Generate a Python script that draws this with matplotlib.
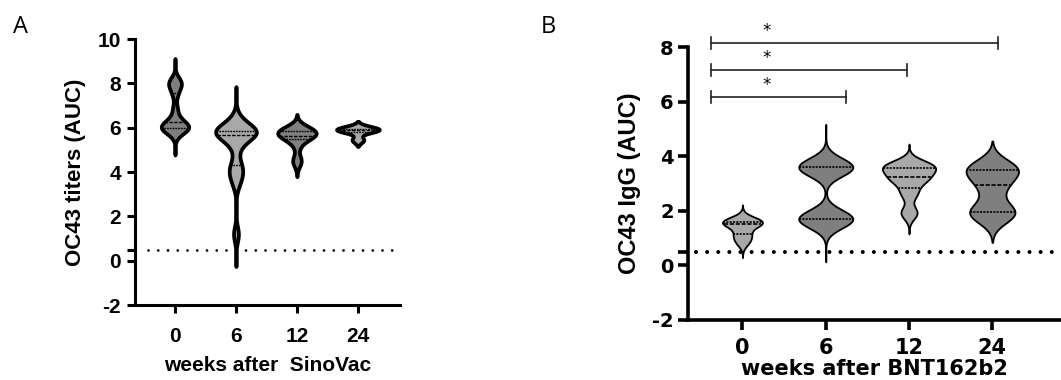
import numpy as np
import matplotlib
matplotlib.use("Agg")
import matplotlib.pyplot as plt
import seaborn as sns

# ---------------- data ----------------
weeks = ["0", "6", "12", "24"]

# Panel A: OC43 titers (AUC), weeks after SinoVac
a_w0 = [5.7, 5.85, 5.95, 6.0, 6.0, 6.05, 6.1, 6.2, 6.3, 6.5, 6.9, 7.5, 7.8, 7.95, 8.05, 8.2]
a_w6 = [1.2, 3.5, 3.9, 4.1, 4.4, 5.1, 5.5, 5.65, 5.7, 5.75, 5.8, 5.85, 5.9, 5.95, 6.1, 6.4]
a_w12 = [4.4, 4.6, 5.2, 5.5, 5.6, 5.65, 5.65, 5.7, 5.8, 5.85, 5.9, 5.95, 6.0]
a_w24 = [5.4, 5.5, 5.8, 5.85, 5.9, 5.9, 5.92, 5.95, 6.0, 6.05]

# Panel B: OC43 IgG (AUC), weeks after BNT162b2
b_w0 = [0.8, 0.95, 1.1, 1.2, 1.45, 1.5, 1.55, 1.6, 1.6, 1.65, 1.7]
b_w6 = [1.5, 1.6, 1.7, 1.7, 1.8, 1.9, 3.4, 3.5, 3.6, 3.6, 3.7, 3.8]
b_w12 = [1.85, 2.0, 2.55, 2.75, 3.05, 3.15, 3.2, 3.3, 3.45, 3.55, 3.6, 3.65, 3.7, 3.75]
b_w24 = [1.7, 1.85, 1.95, 1.95, 2.1, 2.6, 2.95, 3.1, 3.35, 3.5, 3.55, 3.6, 3.7]

cutoff = 0.5

# significance brackets in panel B (from week 0 to week 6 / 12 / 24)
bracket_y = [6.17, 7.16, 8.15]
bracket_x0 = -0.38
bracket_x1 = [1.24, 1.97, 3.07]
bracket_labels = ["*", "*", "*"]

# ---------------- style ----------------
dark = "#7f7f7f"
light = "#a8a8a8"

fig = plt.figure(figsize=(10.61, 3.8), dpi=100)
axA = fig.add_axes([0.127, 0.197, 0.25, 0.700])
axB = fig.add_axes([0.648, 0.158, 0.3516, 0.718])


def draw_violins(ax, groups, colors, widths, bw_adj, cuts, lw, inner_lw):
    for i, vals in enumerate(groups):
        vals = np.asarray(vals, dtype=float)
        sns.violinplot(x=np.full(len(vals), float(i)), y=vals, native_scale=True,
                       orient="x", color=colors[i], saturation=1, width=widths[i],
                       density_norm="width", inner="quart", linewidth=lw,
                       linecolor="black", bw_adjust=bw_adj[i], cut=cuts[i],
                       inner_kws=dict(linewidth=inner_lw, color="black"), ax=ax)


draw_violins(axA, [a_w0, a_w6, a_w12, a_w24],
             [dark, light, dark, light],
             [0.45, 0.67, 0.63, 0.70],
             [0.45, 0.45, 0.8, 0.9],
             [4.0, 4.2, 2.5, 2.0], lw=2.7, inner_lw=1.0)

draw_violins(axB, [b_w0, b_w6, b_w12, b_w24],
             [light, dark, light, dark],
             [0.48, 0.65, 0.64, 0.63],
             [0.9, 0.5, 0.6, 0.75],
             [3.0, 4.5, 3.2, 2.5], lw=1.3, inner_lw=1.2)

fA = "Liberation Sans"
fB = "DejaVu Sans"

# ---- Panel A axes ----
axA.set_xlim(-0.66, 3.69)
axA.set_ylim(-2, 10)
axA.axhline(cutoff, xmin=0.05, xmax=1, color="black", lw=2.0,
            ls=(0, (0.01, 3.5)), dash_capstyle="round", zorder=0)
for s in ["top", "right"]:
    axA.spines[s].set_visible(False)
for s in ["left", "bottom"]:
    axA.spines[s].set_linewidth(2.2)
axA.set_xticks(range(4))
axA.set_xticklabels(weeks, fontfamily=fA, fontweight="bold", fontsize=15)
axA.set_yticks(np.arange(-2, 11, 2))
axA.set_yticklabels([str(v) for v in np.arange(-2, 11, 2)],
                    fontfamily=fA, fontweight="bold", fontsize=15)
axA.set_yticks([cutoff], minor=True)
axA.tick_params(axis="both", which="major", width=2.2, length=6, pad=4)
axA.tick_params(axis="x", which="major", pad=10)
axA.tick_params(axis="y", which="minor", width=2.2, length=6)
axA.set_xlabel("weeks after  SinoVac", fontfamily=fA, fontweight="bold",
               fontsize=15, labelpad=7)
axA.set_ylabel("OC43 titers (AUC)", fontfamily=fA, fontweight="bold",
               fontsize=16, labelpad=8)

# ---- Panel B axes ----
axB.set_xlim(-0.66, 3.82)
axB.set_ylim(-2, 8)
axB.axhline(cutoff, xmin=0.024, xmax=1, color="black", lw=2.9,
            ls=(0, (0.01, 2.75)), dash_capstyle="round", zorder=0)
for s in ["top", "right"]:
    axB.spines[s].set_visible(False)
for s in ["left", "bottom"]:
    axB.spines[s].set_linewidth(2.6)
axB.set_xticks(range(4))
axB.set_xticklabels(weeks, fontfamily=fB, fontweight="bold", fontsize=15)
axB.set_yticks(np.arange(-2, 9, 2))
axB.set_yticklabels([str(v) for v in np.arange(-2, 9, 2)],
                    fontfamily=fB, fontweight="bold", fontsize=14)
axB.set_yticks([cutoff], minor=True)
axB.tick_params(axis="both", which="major", width=2.6, length=7, pad=3)
axB.tick_params(axis="x", which="major", pad=6)
axB.tick_params(axis="y", which="minor", width=2.6, length=7)
axB.set_xlabel("weeks after BNT162b2", fontfamily=fB, fontweight="bold",
               fontsize=15, labelpad=1)
axB.set_ylabel("OC43 IgG (AUC)", fontfamily=fA,
               fontweight="bold", fontsize=17, labelpad=8)

for yb, x1, lab in zip(bracket_y, bracket_x1, bracket_labels):
    axB.plot([bracket_x0, x1], [yb, yb], color="#222222", lw=1.2, clip_on=False)
    for xe in (bracket_x0, x1):
        axB.plot([xe, xe], [yb - 0.22, yb + 0.22], color="#222222", lw=1.2, clip_on=False)
    axB.text(0.29, yb + 0.1, lab, ha="center", va="bottom", fontsize=12,
             fontfamily=fB, clip_on=False)

fig.text(13 / 1061, 1 - 33 / 380, "A", fontsize=17, fontfamily="Open Sans")
fig.text(541 / 1061, 1 - 33 / 380, "B", fontsize=17, fontfamily="Open Sans")

fig.savefig("out.png", dpi=100)
